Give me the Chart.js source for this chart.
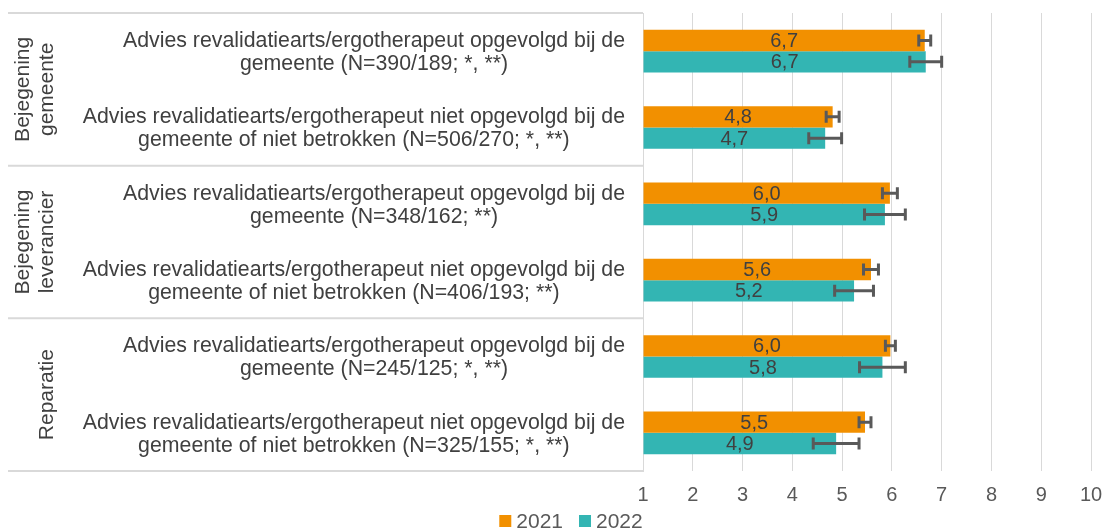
<!DOCTYPE html>
<html><head><meta charset="utf-8">
<script src="https://cdn.jsdelivr.net/npm/chart.js@4"></script>
<style>html,body{margin:0;padding:0;background:#fff;overflow:hidden}</style>
</head><body>
<canvas id="c" width="1104" height="532"></canvas>
<script>
const categories = [
  ['Advies revalidatiearts/ergotherapeut opgevolgd bij de', 'gemeente (N=390/189; *, **)'],
  ['Advies revalidatiearts/ergotherapeut niet opgevolgd bij de', 'gemeente of niet betrokken (N=506/270; *, **)'],
  ['Advies revalidatiearts/ergotherapeut opgevolgd bij de', 'gemeente (N=348/162; **)'],
  ['Advies revalidatiearts/ergotherapeut niet opgevolgd bij de', 'gemeente of niet betrokken (N=406/193; **)'],
  ['Advies revalidatiearts/ergotherapeut opgevolgd bij de', 'gemeente (N=245/125; *, **)'],
  ['Advies revalidatiearts/ergotherapeut niet opgevolgd bij de', 'gemeente of niet betrokken (N=325/155; *, **)']
];
const groups = [['Bejegening', 'gemeente'], ['Bejegening', 'leverancier'], ['Reparatie']];
const groupSize = [2, 2, 2];
const seriesNames = ['2021', '2022'];
const values2021 = [6.66, 4.81, 5.96, 5.58, 5.97, 5.46];
const values2022 = [6.68, 4.66, 5.86, 5.24, 5.81, 4.88];
const err2021 = [0.12, 0.13, 0.15, 0.15, 0.10, 0.12];
const err2022 = [0.32, 0.33, 0.41, 0.39, 0.46, 0.46];
const xTicks = [1, 2, 3, 4, 5, 6, 7, 8, 9, 10];

const FONT = "'Liberation Sans', Arial, sans-serif";
Chart.defaults.font.family = FONT;
const errors = [err2021, err2022];

const decor = {
  id: 'decor',
  afterDatasetsDraw(chart) {
    const ctx = chart.ctx;
    const xs = chart.scales.x;
    ctx.save();
    chart.data.datasets.forEach((ds, di) => {
      const meta = chart.getDatasetMeta(di);
      meta.data.forEach((bar, i) => {
        const v = ds.data[i];
        ctx.fillStyle = '#404040';
        ctx.font = '20px ' + FONT;
        ctx.textAlign = 'center';
        ctx.textBaseline = 'middle';
        ctx.fillText(v.toFixed(1).replace('.', ','), (bar.base + bar.x) / 2, bar.y + 1);
        const e = errors[di][i];
        const xl = xs.getPixelForValue(v - e), xr = xs.getPixelForValue(v + e);
        ctx.strokeStyle = '#595959';
        ctx.lineWidth = 3;
        ctx.beginPath();
        ctx.moveTo(xl, bar.y); ctx.lineTo(xr, bar.y);
        ctx.moveTo(xl, bar.y - 6); ctx.lineTo(xl, bar.y + 6);
        ctx.moveTo(xr, bar.y - 6); ctx.lineTo(xr, bar.y + 6);
        ctx.stroke();
      });
    });
    ctx.restore();
  },
  afterDraw(chart) {
    const ctx = chart.ctx;
    const ys = chart.scales.y;
    const area = chart.chartArea;
    ctx.save();
    const step = (ys.getPixelForValue(1) - ys.getPixelForValue(0));
    const bounds = [];
    let idx = 0;
    bounds.push(ys.getPixelForValue(0) - step / 2);
    groupSize.forEach(n => { idx += n; bounds.push(ys.getPixelForValue(idx - 1) + step / 2); });
    ctx.strokeStyle = '#d9d9d9';
    ctx.lineWidth = 2;
    bounds.forEach(b => {
      ctx.beginPath(); ctx.moveTo(8, b); ctx.lineTo(area.left, b); ctx.stroke();
    });
    ctx.fillStyle = '#404040';
    ctx.font = '21.3px ' + FONT;
    ctx.textAlign = 'center';
    ctx.textBaseline = 'middle';
    categories.forEach((lines, i) => {
      const cy = ys.getPixelForValue(i) + 1.5;
      const maxW = Math.max(...lines.map(l => ctx.measureText(l).width));
      const cx = 625 - maxW / 2;
      lines.forEach((l, k) => ctx.fillText(l, cx, cy + (k - (lines.length - 1) / 2) * 23));
    });
    ctx.font = '21px ' + FONT;
    groups.forEach((lines, g) => {
      const cy = (bounds[g] + bounds[g + 1]) / 2;
      ctx.save();
      ctx.translate(47, cy);
      ctx.rotate(-Math.PI / 2);
      lines.forEach((l, k) => ctx.fillText(l, 0, (k - (lines.length - 1)) * 24));
      ctx.restore();
    });
    ctx.font = '21px ' + FONT;
    ctx.textAlign = 'left';
    const box = 12, gap = 5, spacing = 16;
    const widths = chart.data.datasets.map(ds => box + gap + ctx.measureText(ds.label).width);
    const total = widths.reduce((a, b) => a + b, 0) + spacing * (widths.length - 1);
    let x = 571 - total / 2;
    const ly = 521;
    chart.data.datasets.forEach((ds, di) => {
      ctx.fillStyle = ds.backgroundColor;
      ctx.fillRect(x, ly - box / 2, box, box);
      ctx.fillStyle = '#595959';
      ctx.fillText(ds.label, x + box + gap, ly + 1);
      x += widths[di] + spacing;
    });
    ctx.restore();
  }
};

new Chart(document.getElementById('c'), {
  type: 'bar',
  data: {
    labels: categories.map(c => c.join(' ')),
    datasets: [
      { label: seriesNames[0], data: values2021, backgroundColor: '#F29000', base: 1 },
      { label: seriesNames[1], data: values2022, backgroundColor: '#33B5B3', base: 1 }
    ]
  },
  options: {
    indexAxis: 'y',
    responsive: false,
    animation: false,
    devicePixelRatio: 1,
    categoryPercentage: 0.56,
    barPercentage: 1,
    layout: { padding: { top: 13, right: 0, left: 0, bottom: 0 } },
    plugins: { legend: { display: false }, tooltip: { enabled: false } },
    scales: {
      x: {
        type: 'linear', min: 1, max: 10,
        afterBuildTicks: s => { s.ticks = xTicks.map(v => ({ value: v })); },
        ticks: { color: '#595959', font: { size: 20 }, padding: 12 },
        grid: { color: '#d9d9d9', lineWidth: 1, drawTicks: false },
        border: { display: false },
        afterFit: s => { s.height = 61; s.paddingRight = 13; s.paddingLeft = 0; }
      },
      y: {
        ticks: { display: false },
        grid: { display: false, drawTicks: false },
        border: { display: true, color: '#d9d9d9', width: 1 },
        afterFit: s => { s.width = 643; }
      }
    }
  },
  plugins: [decor]
});
</script>
</body></html>
